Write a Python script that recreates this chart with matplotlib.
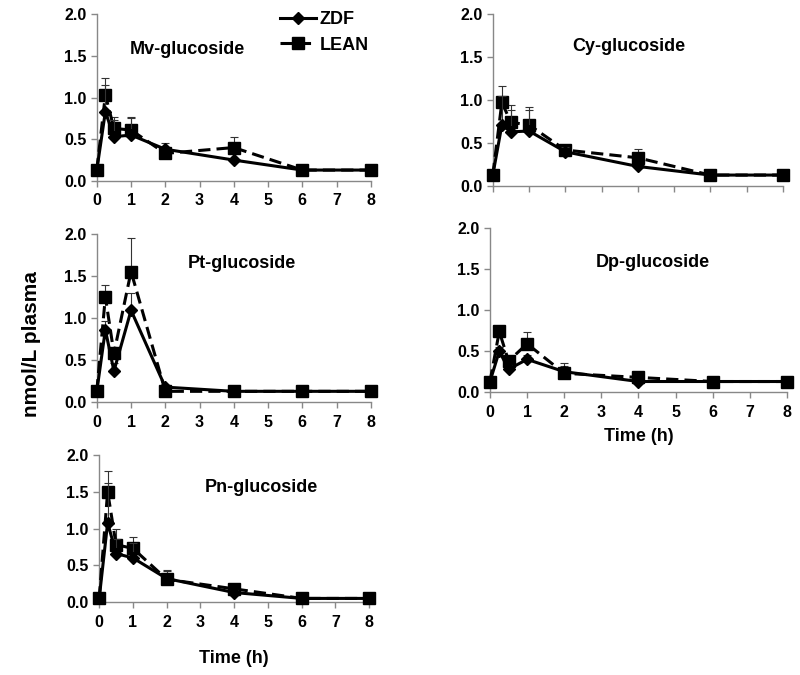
import numpy as np
import matplotlib
matplotlib.use("Agg")
import matplotlib.pyplot as plt
from matplotlib.lines import Line2D

plt.rcParams['font.family'] = ['Liberation Sans', 'DejaVu Sans']
plt.rcParams['font.weight'] = 'bold'

time_h = [0, 0.25, 0.5, 1, 2, 4, 6, 8]

mv_zdf = [0.13, 0.83, 0.53, 0.55, 0.38, 0.25, 0.13, 0.13]
mv_lean = [0.13, 1.03, 0.63, 0.61, 0.33, 0.40, 0.13, 0.13]
mv_zdf_err = [0, 0.32, 0.20, 0.20, 0.08, 0.02, 0, 0]
mv_lean_err = [0, 0.21, 0.14, 0.16, 0.08, 0.13, 0, 0]

cy_zdf = [0.13, 0.71, 0.63, 0.64, 0.40, 0.23, 0.13, 0.13]
cy_lean = [0.13, 0.97, 0.74, 0.71, 0.42, 0.33, 0.13, 0.13]
cy_zdf_err = [0, 0.34, 0.25, 0.24, 0.05, 0.02, 0, 0]
cy_lean_err = [0, 0.19, 0.20, 0.21, 0.05, 0.10, 0, 0]

pt_zdf = [0.13, 0.86, 0.37, 1.09, 0.18, 0.13, 0.13, 0.13]
pt_lean = [0.13, 1.25, 0.58, 1.55, 0.13, 0.13, 0.13, 0.13]
pt_zdf_err = [0, 0.10, 0.10, 0.20, 0.02, 0, 0, 0]
pt_lean_err = [0, 0.14, 0.05, 0.40, 0.02, 0, 0, 0]

dp_zdf = [0.13, 0.50, 0.28, 0.40, 0.25, 0.13, 0.13, 0.13]
dp_lean = [0.13, 0.74, 0.38, 0.59, 0.23, 0.18, 0.13, 0.13]
dp_zdf_err = [0, 0.05, 0.05, 0.05, 0.11, 0.02, 0, 0]
dp_lean_err = [0, 0.06, 0.05, 0.14, 0.09, 0.02, 0, 0]

pn_zdf = [0.05, 1.08, 0.66, 0.60, 0.32, 0.13, 0.05, 0.05]
pn_lean = [0.05, 1.50, 0.78, 0.73, 0.31, 0.18, 0.05, 0.05]
pn_zdf_err = [0, 0.54, 0.20, 0.20, 0.10, 0.03, 0, 0]
pn_lean_err = [0, 0.28, 0.21, 0.16, 0.12, 0.03, 0, 0]

# (name, zdf, lean, zdf err, lean err, axes rect, title pos, show xticklabels, xlabel pad)
panels = [
    ("Mv-glucoside", mv_zdf, mv_lean, mv_zdf_err, mv_lean_err,
     [0.121, 0.732, 0.3425, 0.247], (0.33, 0.79), True, None),
    ("Cy-glucoside", cy_zdf, cy_lean, cy_zdf_err, cy_lean_err,
     [0.616, 0.724, 0.3625, 0.256], (0.47, 0.81), False, None),
    ("Pt-glucoside", pt_zdf, pt_lean, pt_zdf_err, pt_lean_err,
     [0.121, 0.404, 0.3425, 0.250], (0.53, 0.82), True, None),
    ("Dp-glucoside", dp_zdf, dp_lean, dp_zdf_err, dp_lean_err,
     [0.6125, 0.419, 0.371, 0.243], (0.55, 0.79), True, 6),
    ("Pn-glucoside", pn_zdf, pn_lean, pn_zdf_err, pn_lean_err,
     [0.124, 0.108, 0.3375, 0.218], (0.60, 0.78), True, 15),
]

fig = plt.figure(figsize=(8, 6.75), dpi=100)

for i, (name, zdf, lean, ezdf, elean, rect, tpos, showx, xpad) in enumerate(panels):
    ax = fig.add_axes(rect)
    ax.errorbar(time_h, lean, yerr=[np.zeros(len(elean)), elean], color='black',
                ls='--', lw=2.2, marker='s', ms=9, ecolor='#333333', elinewidth=0.8,
                capsize=3, capthick=0.8, zorder=3, dashes=(4, 2))
    ax.errorbar(time_h, zdf, yerr=[np.zeros(len(ezdf)), ezdf], color='black',
                ls='-', lw=2.2, marker='D', ms=6, ecolor='#333333', elinewidth=0.8,
                capsize=3, capthick=0.8, zorder=4)
    ax.set_xlim(0, 8)
    ax.set_ylim(0, 2.0)
    ax.set_xticks(range(9))
    ax.set_yticks([0, 0.5, 1.0, 1.5, 2.0])
    ax.set_yticklabels(['0.0', '0.5', '1.0', '1.5', '2.0'])
    if not showx:
        ax.set_xticklabels([])
    for s in ['top', 'right']:
        ax.spines[s].set_visible(False)
    for s in ['left', 'bottom']:
        ax.spines[s].set_color('#888888')
        ax.spines[s].set_linewidth(1)
    ax.tick_params(axis='both', direction='out', color='#888888', labelsize=11.5,
                   length=4, width=1)
    ax.tick_params(axis='x', pad=5)
    for lbl in ax.get_xticklabels() + ax.get_yticklabels():
        lbl.set_fontweight('bold')
    for ln in ax.get_lines():
        ln.set_clip_on(False)
    ax.text(tpos[0], tpos[1], name, transform=ax.transAxes, ha='center',
            va='center', fontsize=13, fontweight='bold')
    if xpad is not None:
        ax.set_xlabel('Time (h)', fontsize=13, fontweight='bold', labelpad=xpad)
    if i == 0:
        handles = [Line2D([], [], color='black', lw=2.2, marker='D', ms=6),
                   Line2D([], [], color='black', lw=2.2, ls='--', dashes=(4, 2),
                          marker='s', ms=9)]
        ax.legend(handles, ['ZDF', 'LEAN'], loc='upper right',
                  bbox_to_anchor=(1.02, 1.06), frameon=False, fontsize=13,
                  handlelength=2.0, handletextpad=0.2, borderaxespad=0,
                  labelspacing=0.45)

fig.text(0.04, 0.49, 'nmol/L plasma', rotation=90, ha='center', va='center',
         fontsize=15, fontweight='bold')

fig.savefig('out.png', dpi=100)
